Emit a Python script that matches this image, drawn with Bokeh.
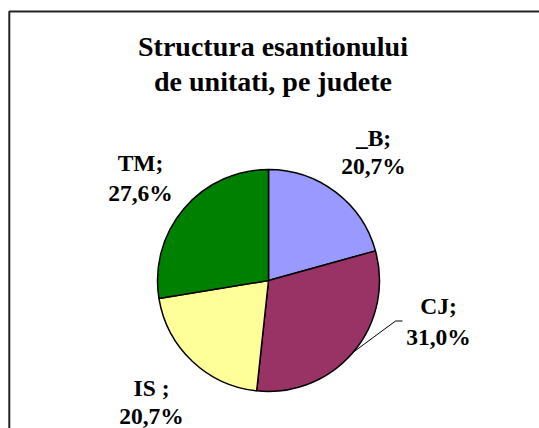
import numpy as np
from bokeh.plotting import figure
from bokeh.models import Range1d
from bokeh.core.properties import value
from bokeh.embed import file_html
from bokeh.resources import INLINE

# ---- data ----
categories = ["_B", "CJ", "IS", "TM"]
shares = [20.7, 31.0, 20.7, 27.6]
label_lines1 = ["_B;", "CJ;", "IS ;", "TM;"]
label_lines2 = ["20,7%", "31,0%", "20,7%", "27,6%"]
colors = ["#9999FF", "#993366", "#FFFF99", "#008000"]
title_lines = ["Structura esantionului", "de unitati, pe judete"]

# ---- layout (page pixel coordinates, converted to data units) ----
W, H = 539, 428
OFF = 0
TXT = -6  # text baseline correction
def Y(py):  # page y -> data y (upward)
    return H - (py - OFF)
def X(px):
    return px - OFF

cx, cy, r = X(268), Y(280), 111
label_cx = [373, 438, 151, 140]
label_base1 = [143, 311, 393, 168]
label_base2 = [171, 342, 421, 198]

p = figure(width=W, height=H, output_backend="svg", toolbar_location=None,
           x_range=Range1d(0, W), y_range=Range1d(0, H),
           min_border=0, min_border_left=0, min_border_right=0,
           min_border_top=0, min_border_bottom=0)
p.axis.visible = False
p.grid.visible = False
p.outline_line_color = None
p.background_fill_color = "white"
p.border_fill_color = "white"

fr = np.array(shares) / sum(shares)
cum = np.concatenate([[0], np.cumsum(fr)])
start = np.pi / 2 - cum[:-1] * 2 * np.pi
end = np.pi / 2 - cum[1:] * 2 * np.pi
p.wedge(x=cx, y=cy, radius=r, start_angle=start, end_angle=end,
        direction="clock", fill_color=colors, line_color="black", line_width=1.5)

mid = (start[1] + end[1]) / 2
ex, ey = cx + r * np.cos(mid), cy + r * np.sin(mid)
p.line(x=[ex, X(395), X(402)], y=[ey, Y(320.5), Y(320.5)], line_color="black", line_width=1)

font = value("Liberation Serif")
p.text(x=[X(c) for c in label_cx], y=[Y(b + TXT) for b in label_base1], text=label_lines1,
       text_font=font, text_font_style="bold", text_font_size="23.5px",
       text_align="center", text_baseline="alphabetic", text_color="black")
p.text(x=[X(c) for c in label_cx], y=[Y(b + TXT) for b in label_base2], text=label_lines2,
       text_font=font, text_font_style="bold", text_font_size="23.5px",
       text_align="center", text_baseline="alphabetic", text_color="black")

p.text(x=[X(272.5), X(272.5)], y=[Y(52 + TXT), Y(87 + TXT)], text=title_lines,
       text_font=font, text_font_style="bold", text_font_size="28px",
       text_align="center", text_baseline="alphabetic", text_color="black")

p.line(x=[X(8.8), X(8.8), W + 20], y=[-20, Y(11), Y(11)], line_color="#222222", line_width=2)

open("out.html", "w").write(file_html(p, INLINE))
